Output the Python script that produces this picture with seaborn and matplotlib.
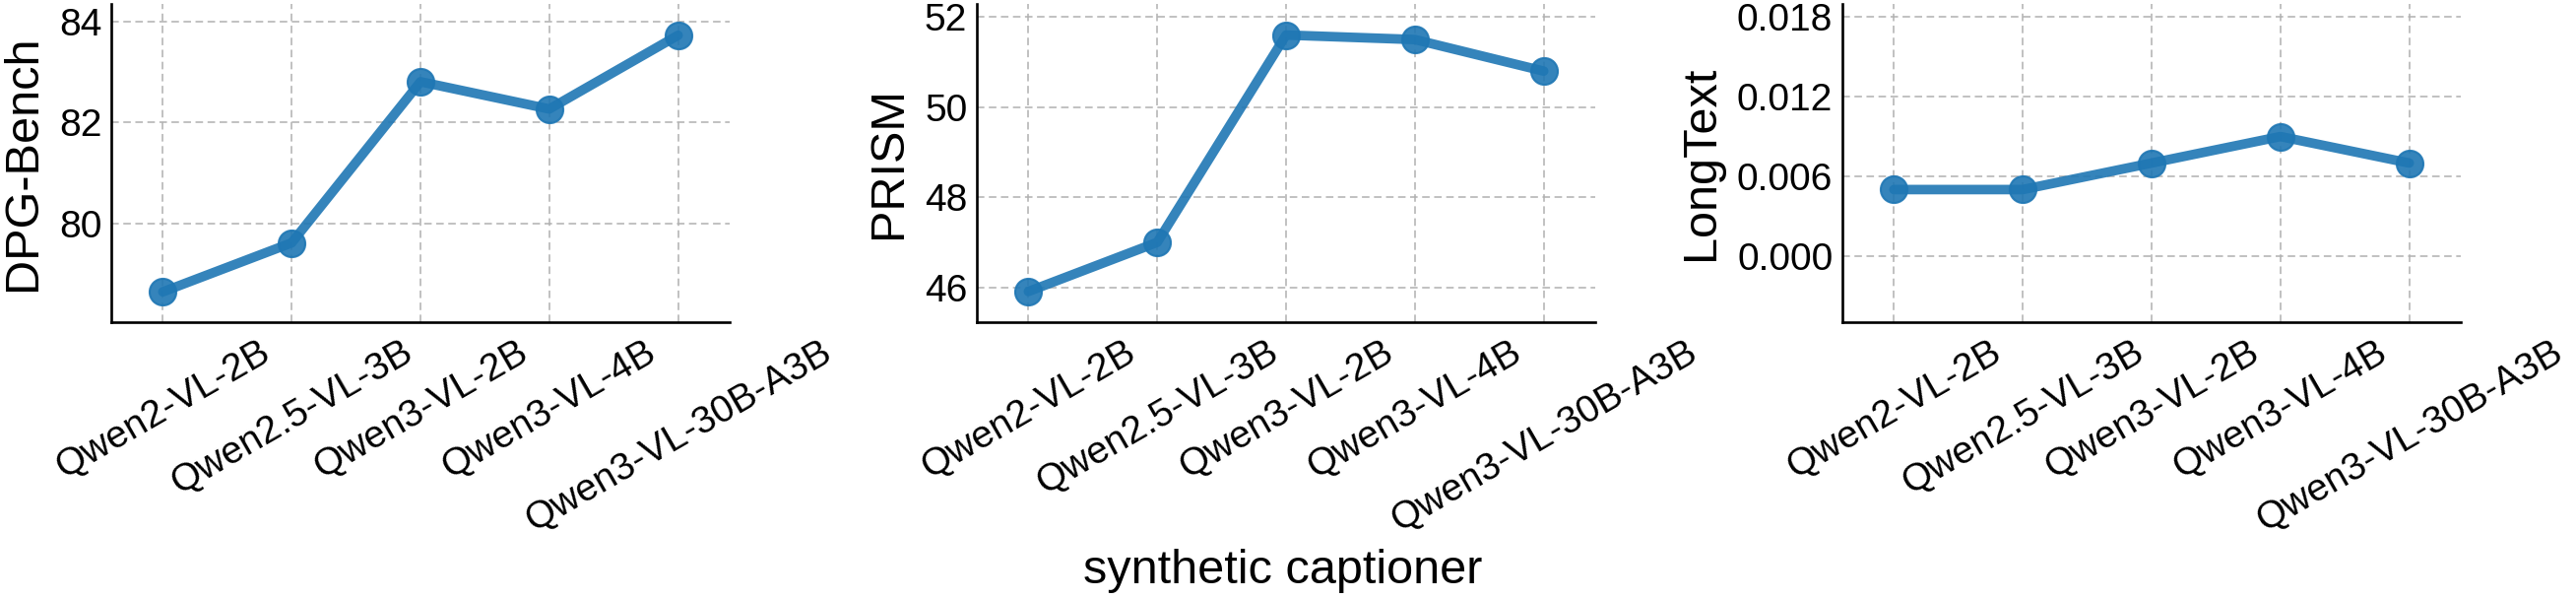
import matplotlib
matplotlib.use("Agg")
import matplotlib.pyplot as plt
from matplotlib.ticker import FormatStrFormatter
import seaborn as sns
import pandas as pd

# Data
captioners = ["Qwen2-VL-2B", "Qwen2.5-VL-3B", "Qwen3-VL-2B", "Qwen3-VL-4B", "Qwen3-VL-30B-A3B"]
dpg_bench = [78.65, 79.62, 82.81, 82.27, 83.73]
prism = [45.91, 47.0, 51.6, 51.5, 50.8]
longtext = [0.0050, 0.0050, 0.0070, 0.0090, 0.0070]

metric_names = ["DPG-Bench", "PRISM", "LongText"]
metric_values = [dpg_bench, prism, longtext]
y_ticks = [[80, 82, 84], [46, 48, 50, 52], [0.000, 0.006, 0.012, 0.018]]
y_limits = [(78.05, 84.35), (45.23, 52.29), (-0.005, 0.019)]

LINE_COLOR = "#1f77b4"

sns.set_theme(style="white")
plt.rcParams["font.family"] = ["Liberation Sans", "DejaVu Sans"]
plt.rcParams["text.color"] = "black"
plt.rcParams["axes.labelcolor"] = "black"
plt.rcParams["xtick.color"] = "black"
plt.rcParams["ytick.color"] = "black"

fig = plt.figure(figsize=(26.16, 6.08), dpi=100)
lefts = [113 / 2616, 992 / 2616, 1871 / 2616]
width = 628 / 2616
bottom = (608 - 327) / 608
height = 323 / 608

for i, (name, vals) in enumerate(zip(metric_names, metric_values)):
    ax = fig.add_axes([lefts[i], bottom, width, height])
    df = pd.DataFrame({"captioner": captioners, name: vals})
    sns.lineplot(data=df, x="captioner", y=name, ax=ax, color=LINE_COLOR,
                 alpha=0.9, linewidth=7, marker="o", markersize=19.5,
                 markeredgecolor=LINE_COLOR, markeredgewidth=1.5, sort=False)

    ax.set_xlim(-0.4, 4.4)
    ax.set_ylim(*y_limits[i])
    ax.set_yticks(y_ticks[i])
    if name == "LongText":
        ax.yaxis.set_major_formatter(FormatStrFormatter("%.3f"))

    ax.set_axisbelow(True)
    ax.grid(True, linestyle=(0, (5, 3)), color="#b0b0b0", linewidth=1.1)

    for side in ["top", "right"]:
        ax.spines[side].set_visible(False)
    for side in ["left", "bottom"]:
        ax.spines[side].set_linewidth(1.9)
        ax.spines[side].set_color("black")

    ax.tick_params(axis="both", direction="in", length=8.5, width=1.5,
                   color="black", labelcolor="black", labelsize=28)
    ax.tick_params(axis="y", pad=7)
    ax.tick_params(axis="x", pad=9)
    plt.setp(ax.get_xticklabels(), rotation=30, ha="center")

    ax.set_xlabel("")
    ax.set_ylabel(name, fontsize=35, labelpad=10)

fig.text(0.498, 16 / 608, "synthetic captioner", fontsize=35,
         ha="center", va="baseline")

fig.savefig("out.png", dpi=100)
